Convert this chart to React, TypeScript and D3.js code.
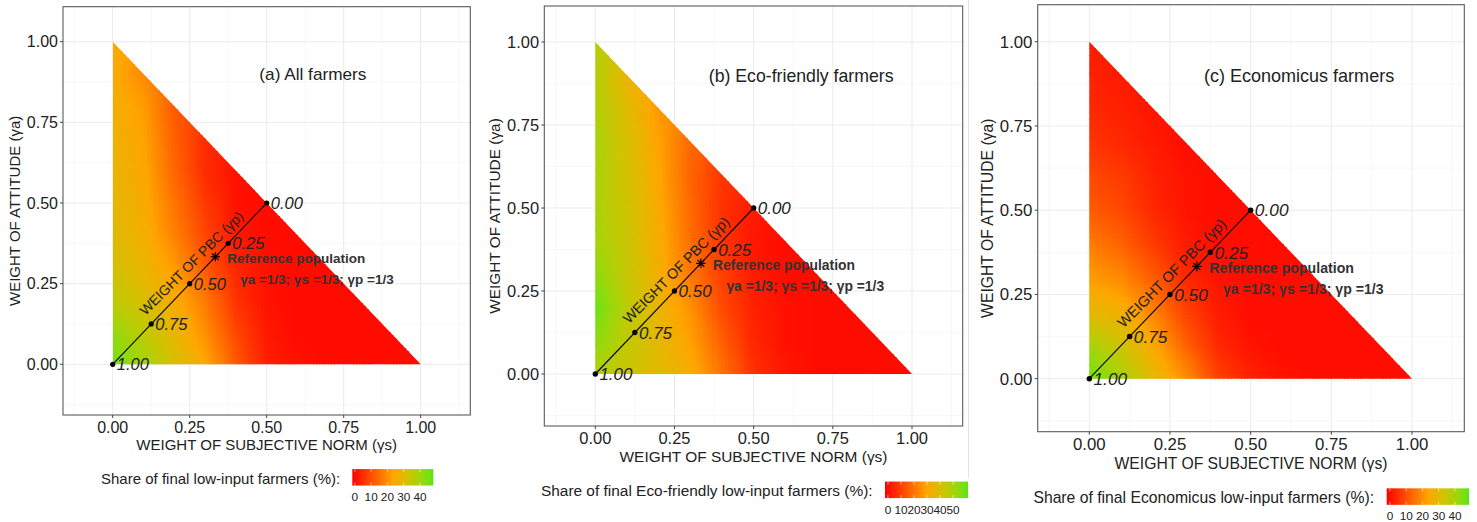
import React from 'react';
import * as d3 from 'd3';

const FONT = '"Liberation Sans", Arial, Helvetica, sans-serif';

// Grid of the raster values: columns = weight of subjective norm (0..1 step 0.1),
// rows = weight of attitude (0..1 step 0.1); only the simplex (s + a <= 1) exists.
const GRID_STEP = 0.1;

const shareAll: number[][] = [
  [46, 40, 32, 24, 12, 3, 1, 0, 0, 0, 0],
  [42, 36, 28, 20, 9, 2, 0, 0, 0, 0],
  [36, 31, 25, 17, 6, 1, 0, 0, 0],
  [32, 28, 22, 12, 4, 1, 0, 0],
  [30, 26, 18, 9, 2, 0, 0],
  [29, 25, 16, 7, 1, 0],
  [28, 24, 14, 5, 1],
  [27, 23, 13, 5],
  [26, 22, 12],
  [25, 19],
  [25],
];

const shareEco: number[][] = [
  [48, 43, 38, 32, 20, 7, 2, 0, 0, 0, 0],
  [55, 45, 37, 29, 16, 5, 1, 0, 0, 0],
  [60, 46, 35, 26, 12, 4, 1, 0, 0],
  [55, 44, 33, 21, 10, 3, 0, 0],
  [51, 43, 32, 19, 8, 2, 0],
  [50, 42, 31, 18, 7, 3],
  [50, 41, 30, 17, 8],
  [50, 40, 29, 18],
  [49, 38, 27],
  [48, 35],
  [47],
];

const shareEconomicus: number[][] = [
  [47, 40, 29, 20, 8, 3, 1, 0, 0, 0, 0],
  [40, 33, 24, 13, 4, 1, 0, 0, 0, 0],
  [29, 26, 18, 8, 2, 0, 0, 0, 0],
  [22, 19, 12, 4, 1, 0, 0, 0],
  [17, 13, 7, 2, 0, 0, 0],
  [12, 9, 4, 1, 0, 0],
  [9, 7, 3, 1, 0],
  [6, 4, 2, 0],
  [4, 3, 1],
  [3, 2],
  [2],
];

const AXIS_TICKS = [0, 0.25, 0.5, 0.75, 1];
const AXIS_TICK_LABELS = ['0.00', '0.25', '0.50', '0.75', '1.00'];
const PBC_POS = [0, 0.125, 0.25, 0.375, 0.5];
const PBC_LABELS = ['1.00', '0.75', '0.50', '0.25', '0.00'];
const REF_POINT = 1 / 3;

const LEGEND_TICKS_A = [0, 10, 20, 30, 40];
const LEGEND_TICKS_B = [0, 10, 20, 30, 40, 50];
const LEGEND_TICKS_C = [0, 10, 20, 30, 40];

const COLORS = ['#ff0000', '#ffa500', '#55e615'];

const PANELS = [
  {
    id: 'a', title: '(a) All farmers', legend: 'Share of final low-input farmers (%):',
    grid: shareAll, lo: -1.6, hi: 48.2, ticks: LEGEND_TICKS_A,
    box: { l: 63, r: 470.3, t: 6.7, b: 415 }, x0: 112.7, x1: 420.7, y0: 364.3, y1: 41.7,
    barX: 352.3, barW: 81, labFont: 11.8, labY: 496.5,
  },
  {
    id: 'b', title: '(b) Eco-friendly farmers', legend: 'Share of final Eco-friendly low-input farmers (%):',
    grid: shareEco, lo: -2.3, hi: 61.5, ticks: LEGEND_TICKS_B,
    box: { l: 544.3, r: 962.7, t: 6, b: 426 }, x0: 595.3, x1: 912, y0: 374, y1: 42,
    barX: 885, barW: 83, labFont: 11.8, labY: 509.5,
  },
  {
    id: 'c', title: '(c) Economicus farmers', legend: 'Share of final Economicus low-input farmers (%):',
    grid: shareEconomicus, lo: -2, hi: 48.6, ticks: LEGEND_TICKS_C,
    box: { l: 1037.7, r: 1464.3, t: 4.7, b: 431.7 }, x0: 1089.3, x1: 1412, y0: 378.7, y1: 41.7,
    barX: 1386.7, barW: 82.3, labFont: 11.8, labY: 515.5,
  },
];

const N = Math.round(1 / GRID_STEP);

function gv(g: number[][], i: number, j: number): number {
  if (i + j <= N) return g[j][i];
  const k = i + j - N;
  return (g[j][i - k] + g[j - k][i]) / 2;
}

function valueAt(g: number[][], s: number, a: number): number {
  const x = s / GRID_STEP, y = a / GRID_STEP;
  const i0 = Math.min(N - 1, Math.floor(x));
  const j0 = Math.min(N - 1, Math.floor(y));
  const fx = x - i0, fy = y - j0;
  return (1 - fx) * (1 - fy) * gv(g, i0, j0) + fx * (1 - fy) * gv(g, i0 + 1, j0)
    + (1 - fx) * fy * gv(g, i0, j0 + 1) + fx * fy * gv(g, i0 + 1, j0 + 1);
}

function makeColor(lo: number, hi: number) {
  const mid = (lo + hi) / 2;
  const lower = d3.scaleLinear<string>().domain([lo, mid]).range([COLORS[0], COLORS[1]])
    .interpolate(d3.interpolateRgb).clamp(true);
  const upper = d3.scaleLinear<string>().domain([mid, hi]).range([COLORS[1], COLORS[2]])
    .interpolate(d3.interpolateLab).clamp(true);
  return (v: number) => (v <= mid ? lower(v) : upper(v));
}

function Panel({ p }: { p: any }) {
  const k = (p.x1 - p.x0) / 307.7;
  const xs = d3.scaleLinear().domain([0, 1]).range([p.x0, p.x1]);
  const ys = d3.scaleLinear().domain([0, 1]).range([p.y0, p.y1]);
  const color = makeColor(p.lo, p.hi);
  const { l, r, t, b } = p.box;
  const xMin = xs.invert(l), xMax = xs.invert(r), yMin = ys.invert(b), yMax = ys.invert(t);
  const minorX = d3.range(-0.125, 1.2, 0.25).filter(v => v > xMin && v < xMax);
  const minorY = d3.range(-0.125, 1.2, 0.25).filter(v => v > yMin && v < yMax);

  const R = 100;
  const d = 1 / R;
  const cells: JSX.Element[] = [];
  for (let j = 0; j < R; j++) {
    for (let i = 0; i < R - j; i++) {
      const s = (i + 0.5) * d, a = (j + 0.5) * d;
      const v = valueAt(p.grid, s, a);
      const xa = xs(i * d), xb = xs((i + 1) * d);
      const ya = ys((j + 1) * d), yb = ys(j * d);
      cells.push(
        <rect key={`${i}-${j}`} x={xa} y={ya} width={xb - xa + 0.6} height={yb - ya + 0.6} fill={color(v)} />
      );
    }
  }
  const clipId = `clip-${p.id}`;
  const gradId = `grad-${p.id}`;
  const tri = `${xs(0)},${ys(0)} ${xs(1)},${ys(0)} ${xs(0)},${ys(1)}`;

  const barW = p.barW;
  const barH = 16.5;
  const barTop = b + 54 * k;
  const barScale = d3.scaleLinear().domain([p.lo, p.hi]).range([p.barX, p.barX + barW]);
  const stops = d3.range(0, 1.0001, 0.05);

  const cx = (l + r) / 2;
  const cy = (t + b) / 2;
  const pbcT = 0.285;
  const px = xs(pbcT), py = ys(pbcT);
  const star = 4.6 * k;
  const sx = xs(REF_POINT), sy = ys(REF_POINT);

  return (
    <g>
      <defs>
        <clipPath id={clipId}><polygon points={tri} /></clipPath>
        <linearGradient id={gradId} x1="0" x2="1" y1="0" y2="0">
          {stops.map(f => (
            <stop key={f} offset={f} stopColor={color(p.lo + f * (p.hi - p.lo))} />
          ))}
        </linearGradient>
      </defs>
      {minorX.map(v => <line key={'mx' + v} x1={xs(v)} x2={xs(v)} y1={t} y2={b} stroke="#f2f2f2" strokeWidth={0.6} />)}
      {minorY.map(v => <line key={'my' + v} x1={l} x2={r} y1={ys(v)} y2={ys(v)} stroke="#f2f2f2" strokeWidth={0.6} />)}
      {AXIS_TICKS.map(v => <line key={'gx' + v} x1={xs(v)} x2={xs(v)} y1={t} y2={b} stroke="#ebebeb" strokeWidth={1} />)}
      {AXIS_TICKS.map(v => <line key={'gy' + v} x1={l} x2={r} y1={ys(v)} y2={ys(v)} stroke="#ebebeb" strokeWidth={1} />)}
      <g clipPath={`url(#${clipId})`} shapeRendering="crispEdges">{cells}</g>
      <rect x={l} y={t} width={r - l} height={b - t} fill="none" stroke="#5a5a5a" strokeWidth={1.1} />
      {AXIS_TICKS.map((v, i) => (
        <g key={'tx' + v}>
          <line x1={xs(v)} x2={xs(v)} y1={b} y2={b + 3} stroke="#444" />
          <text x={xs(v)} y={b + 12 * k} dy="0.36em" textAnchor="middle" fontSize={16 * k} fill="#222">{AXIS_TICK_LABELS[i]}</text>
          <line x1={l - 3} x2={l} y1={ys(v)} y2={ys(v)} stroke="#444" />
          <text x={l - 5 * k} y={ys(v)} dy="0.36em" textAnchor="end" fontSize={16 * k} fill="#222">{AXIS_TICK_LABELS[i]}</text>
        </g>
      ))}
      <text x={cx} y={b + 30 * k} dy="0.36em" textAnchor="middle" fontSize={15 * k} fill="#222">WEIGHT OF SUBJECTIVE NORM (γs)</text>
      <text transform={`translate(${l - 48 * k},${cy}) rotate(-90)`} dy="0.36em" textAnchor="middle" fontSize={15 * k} fill="#222">WEIGHT OF ATTITUDE (γa)</text>
      <text x={xs(0.65)} y={ys(0.9)} dy="0.36em" textAnchor="middle" fontSize={17.2 * k} fill="#222">{p.title}</text>
      <line x1={xs(0)} y1={ys(0)} x2={xs(0.5)} y2={ys(0.5)} stroke="#000" strokeWidth={1.1} />
      {PBC_POS.map((v, i) => (
        <g key={'pb' + v}>
          <circle cx={xs(v)} cy={ys(v)} r={2.6 * k} fill="#000" />
          <text x={xs(v) + 4 * k} y={ys(v)} dy="0.36em" fontSize={16.5 * k} fontStyle="italic" fill="#222">{PBC_LABELS[i]}</text>
        </g>
      ))}
      <text transform={`translate(${px},${py}) rotate(-45)`} y={-8 * k} textAnchor="middle" fontSize={14 * k} fill="#222">WEIGHT OF PBC (γp)</text>
      <g stroke="#000" strokeWidth={1.2}>
        <line x1={sx - star} x2={sx + star} y1={sy} y2={sy} />
        <line x1={sx} x2={sx} y1={sy - star} y2={sy + star} />
        <line x1={sx - star * 0.72} x2={sx + star * 0.72} y1={sy - star * 0.72} y2={sy + star * 0.72} />
        <line x1={sx - star * 0.72} x2={sx + star * 0.72} y1={sy + star * 0.72} y2={sy - star * 0.72} />
      </g>
      <text x={xs(0.372)} y={ys(0.329)} dy="0.36em" fontSize={13.5 * k} fontWeight="bold" fill="#333">Reference population</text>
      <text x={xs(0.414)} y={ys(0.265)} dy="0.36em" fontSize={13.5 * k} fontWeight="bold" fill="#333">γa =1/3; γs =1/3; γp =1/3</text>
      <text x={p.barX - 12 * k} y={barTop + barH / 2 + 1} dy="0.36em" textAnchor="end" fontSize={15 * k} fill="#222">{p.legend}</text>
      <rect x={p.barX} y={barTop} width={barW} height={barH} fill={`url(#${gradId})`} />
      {p.ticks.map((v: number) => (
        <g key={'lt' + v}>
          <line x1={barScale(v)} x2={barScale(v)} y1={barTop} y2={barTop + 3} stroke="#fff" strokeOpacity={0.6} />
          <line x1={barScale(v)} x2={barScale(v)} y1={barTop + barH - 3} y2={barTop + barH} stroke="#fff" strokeOpacity={0.6} />
          <text x={barScale(v)} y={p.labY} dy="0.36em" textAnchor="middle" fontSize={p.labFont} fill="#222">{v}</text>
        </g>
      ))}
    </g>
  );
}

export default function App() {
  return (
    <svg width={1477} height={522} style={{ position: 'absolute', left: 0, top: 0, background: '#fff' }} fontFamily={FONT}>
      <rect width={1477} height={522} fill="#fff" />
      {PANELS.map(p => <Panel key={p.id} p={p} />)}
      <line x1={968.5} x2={968.5} y1={0} y2={478} stroke="#e3e3e3" />
    </svg>
  );
}
